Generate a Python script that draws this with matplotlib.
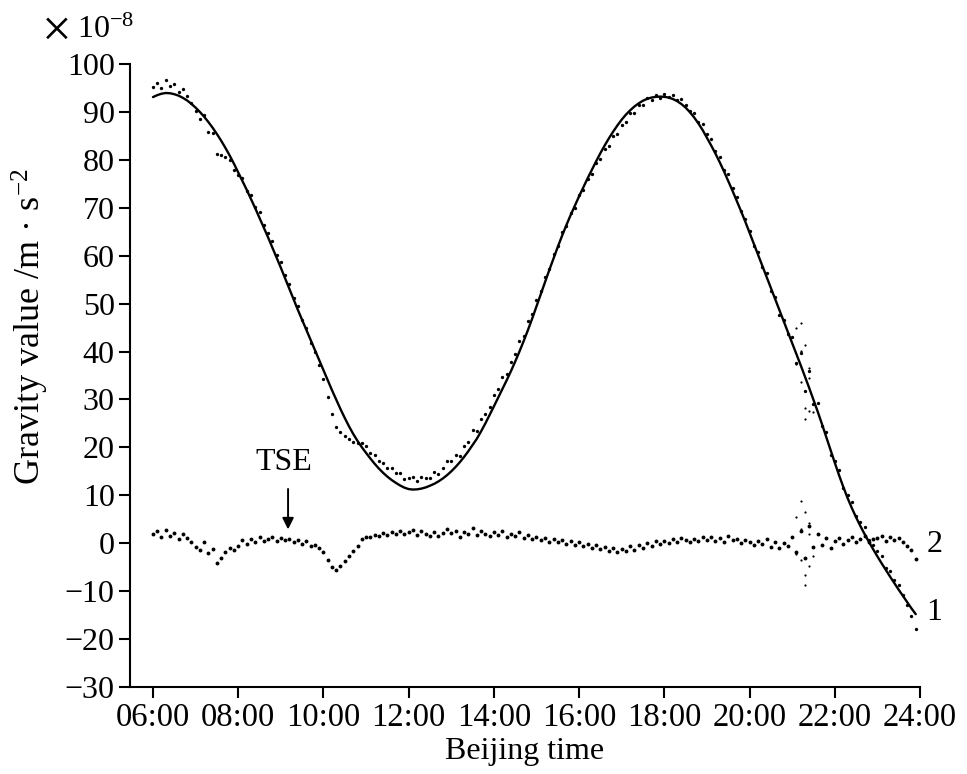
import numpy as np
import matplotlib
matplotlib.use("Agg")
import matplotlib.pyplot as plt

plt.rcParams['font.family'] = ['Liberation Serif', 'DejaVu Serif']
plt.rcParams['mathtext.fontset'] = 'custom'
plt.rcParams['mathtext.rm'] = 'Liberation Serif'
plt.rcParams['mathtext.it'] = 'Liberation Serif:italic'

# sampling grid, Beijing time in hours (06:00 ... 23:54, every 6 min)
hours = np.round(np.arange(6.0, 23.95, 0.1), 1)

# curve 1: theoretical gravity tide (x1e-8 m/s^2)
theory = [
    93.1, 93.5, 93.8, 93.95, 93.9, 93.7, 93.4, 92.95, 92.4, 91.7,
    90.9, 90.0, 89.0, 87.9, 86.7, 85.4, 84.0, 82.5, 80.9, 79.2,
    77.4, 75.6, 73.75, 71.85, 69.9, 67.9, 65.9, 63.85, 61.75, 59.65,
    57.5, 55.3, 53.1, 50.9, 48.7, 46.6, 44.5, 42.4, 40.3, 38.2,
    36.1, 34.0, 31.95, 29.95, 28.0, 26.15, 24.4, 22.8, 21.35, 20.05,
    18.85, 17.7, 16.6, 15.6, 14.7, 13.9, 13.2, 12.6, 12.05, 11.6,
    11.3, 11.2, 11.25, 11.4, 11.65, 12.0, 12.4, 12.9, 13.5, 14.2,
    15.0, 15.9, 16.9, 18.0, 19.2, 20.5, 21.8, 23.35, 25.0, 26.75,
    28.55, 30.35, 32.15, 34.0, 35.9, 37.9, 40.0, 42.2, 44.5, 46.9,
    49.4, 51.95, 54.5, 57.0, 59.45, 61.85, 64.15, 66.35, 68.45, 70.45,
    72.4, 74.3, 76.15, 77.95, 79.7, 81.4, 83.0, 84.5, 85.9, 87.2,
    88.4, 89.45, 90.35, 91.15, 91.8, 92.35, 92.75, 93.0, 93.15, 93.2,
    93.15, 93.0, 92.7, 92.25, 91.65, 90.9, 89.95, 88.85, 87.6, 86.2,
    84.6, 83.0, 81.3, 79.5, 77.6, 75.6, 73.55, 71.45, 69.3, 67.1,
    64.8, 62.5, 60.2, 57.9, 55.6, 53.3, 51.0, 48.7, 46.4, 44.1,
    41.8, 39.5, 37.15, 34.8, 32.4, 29.95, 27.45, 24.85, 22.15, 19.4,
    16.8, 14.2, 11.75, 9.45, 7.35, 5.4, 3.6, 1.9, 0.3, -1.25,
    -2.75, -4.2, -5.6, -7.0, -8.35, -9.7, -11.0, -12.3, -13.6, -14.8,
]

residual = [
    2.0, 2.5, 1.2, 2.8, 1.5, 2.2, 0.8, 1.9, 1.0, 0.2,
    -0.8, -1.5, 0.3, -2.0, -1.2, -4.2, -3.0, -1.8, -0.9, -1.4,
    -0.5, 0.6, -0.2, 0.9, 0.3, 1.2, 0.5, 0.8, 1.3, 0.4,
    1.1, 0.6, 0.9, 0.2, 0.7, -0.1, 0.4, -0.6, -0.3, -1.0,
    -1.8, -3.5, -5.0, -5.6, -4.8, -3.8, -2.6, -1.6, -0.5, 0.8,
    1.4, 1.2, 1.8, 1.5, 2.1, 1.7, 2.4, 2.0, 2.6, 1.9,
    2.3, 2.7, 1.8, 2.5, 2.0, 1.6, 2.4, 1.5, 2.2, 3.0,
    2.1, 2.6, 1.4, 2.3, 1.9, 3.2, 1.7, 2.5, 2.0, 1.6,
    2.4, 1.8, 2.6, 1.3, 2.0, 1.5, 2.3, 1.1, 1.8, 0.9,
    1.4, 0.6, 1.0, 0.3, 0.9, 0.2, 0.7, -0.2, 0.5, -0.4,
    0.3, -0.6, -0.1, -0.9, -0.4, -1.3, -0.7, -1.6, -0.9, -1.9,
    -1.1, -1.6, -0.6, -1.4, -0.3, -0.9, 0.1, -0.5, 0.4, -0.2,
    0.5, 0.1, 0.8, 0.3, 1.1, 0.6, 0.2, 0.9, 0.4, 1.2,
    0.7, 1.4, 0.5, 1.0, 0.2, 1.5, 0.6, 0.9, 0.1, 0.6,
    0.3, -0.4, 0.5, -0.2, 0.8, -0.7, 0.3, -1.0, 0.1, -0.5,
    1.2, -1.8, 2.5, -3.0, 3.6, -0.8, 1.9, -0.3, 1.1, -0.9,
    0.4, 1.0, -0.2, 0.7, 1.3, 0.2, 0.9, 1.5, 0.3, 0.8,
    1.1, 1.6, 0.5, 1.3, 0.6, 1.0, 0.2, -0.6, -1.5, -3.2,
]

# noisy stretch around 21:15 (extra scattered samples)
extra_hours = [21.1, 21.1, 21.2, 21.2, 21.2, 21.3, 21.3, 21.3, 21.4, 21.4, 21.4, 21.5]
extra_resid = [5.5, -2.2, 8.8, -3.6, 3.0, 6.5, -6.6, -8.8, 4.2, -4.8, 2.0, -2.6]

tick_hours = [6, 8, 10, 12, 14, 16, 18, 20, 22, 24]
tick_labels = ["06:00", "08:00", "10:00", "12:00", "14:00",
               "16:00", "18:00", "20:00", "22:00", "24:00"]

theory = np.array(theory)
residual = np.array(residual)
# observed record = theoretical tide + residual
observed = theory + residual
idx = np.searchsorted(hours, extra_hours)
extra_obs = theory[idx] + np.array(extra_resid)

fig = plt.figure(figsize=(9.67, 7.74), dpi=100)
ax = fig.add_axes([0.1344, 0.1124, 0.8170, 0.8049])

ax.plot(hours, theory, color="k", lw=1.7, zorder=3, solid_capstyle="round")
ax.plot(hours, observed, "o", color="k", ms=2.4, mew=0, zorder=2)
ax.plot(extra_hours, extra_obs, "o", color="k", ms=1.6, mew=0)
ax.plot(hours, residual, "o", color="k", ms=2.8, mew=0)
ax.plot(extra_hours, extra_resid, "o", color="k", ms=1.6, mew=0)

ax.set_xlim(5.46, 24.0)
ax.set_ylim(-30, 100)
ax.set_xticks(tick_hours)
ax.set_xticklabels(tick_labels)
ax.set_yticks(np.arange(-30, 101, 10))

for s in ["top", "right"]:
    ax.spines[s].set_visible(False)
for s in ["left", "bottom"]:
    ax.spines[s].set_linewidth(1.5)
ax.tick_params(direction="out", length=8, width=1.5, labelsize=23, pad=3)
ax.tick_params(axis="x", labelsize=23.5)

ax.set_xlabel("Beijing time", fontsize=23, labelpad=3)
ax.set_ylabel("Gravity value /m · s$^{-2}$", fontsize=26)
ax.yaxis.set_label_coords(-0.1, 0.578)
fig.text(0.043, 1 - 33 / 774, "×", fontsize=38, va="center")
fig.text(0.080, 1 - 30 / 774, "10$^{-8}$", fontsize=23, va="center")

ax.text(24.15, -14.4, "1", fontsize=23, va="center", clip_on=False)
ax.text(24.15, -0.2, "2", fontsize=23, va="center", clip_on=False)

ax.text(9.07, 16.9, "TSE", fontsize=23, ha="center", va="center")
ax.annotate("", xy=(9.17, 2.3), xytext=(9.17, 11.9),
            arrowprops=dict(arrowstyle="-|>", color="k", lw=1.4, mutation_scale=17))

fig.savefig("out.png", dpi=100)
